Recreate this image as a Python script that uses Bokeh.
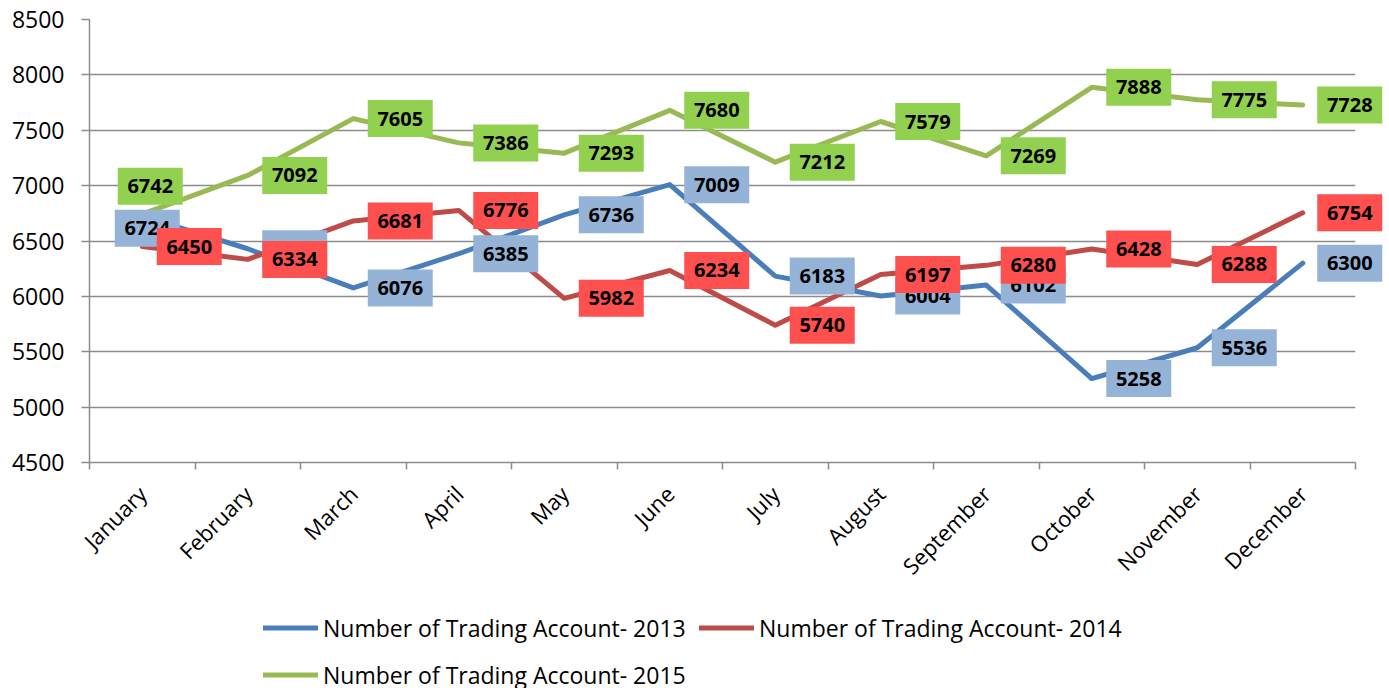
import math
from bokeh.plotting import figure
from bokeh.layouts import column
from bokeh.models import Range1d, FixedTicker, Legend, LegendItem
from bokeh.embed import file_html
from bokeh.resources import INLINE
from bokeh.core.properties import value

# ---------------- data ----------------
months = ["January", "February", "March", "April", "May", "June", "July",
          "August", "September", "October", "November", "December"]
accounts_2013 = [6724, 6430, 6076, 6385, 6736, 7009, 6183, 6004, 6102, 5258, 5536, 6300]
accounts_2014 = [6450, 6334, 6681, 6776, 5982, 6234, 5740, 6197, 6280, 6428, 6288, 6754]
accounts_2015 = [6742, 7092, 7605, 7386, 7293, 7680, 7212, 7579, 7269, 7888, 7775, 7728]
series_names = ["Number of Trading Account- 2013",
                "Number of Trading Account- 2014",
                "Number of Trading Account- 2015"]
y_ticks = [4500, 5000, 5500, 6000, 6500, 7000, 7500, 8000, 8500]

# ---------------- style ----------------
line_colors = ["#4A7EBB", "#BE4B48", "#98B954"]
label_fills = ["#95B3D7", "#FF5050", "#92D050"]
FONT = "Open Sans"
FRAME_W, FRAME_H = 1266, 443
FRAME_LEFT = 89
Y0, Y1 = 4500, 8500
px_per_cat = FRAME_W / len(months)
px_per_unit = FRAME_H / (Y1 - Y0)
LABEL_DX = 47                      # label box sits right of its point (px)
label_nudges = {(0, 0): (-42, 12),  # (series, month) -> (dx, dy) px, dy down
                (2, 0): (-39, -28)}
GRID = "#8C8C8C"
TOTAL_W = 1389
MAIN_BOTTOM = 130
LEG_H = 688 - (19 + FRAME_H + MAIN_BOTTOM)

p = figure(frame_width=FRAME_W, frame_height=FRAME_H,
           min_border_left=FRAME_LEFT, min_border_right=TOTAL_W - FRAME_LEFT - FRAME_W,
           min_border_top=19, min_border_bottom=MAIN_BOTTOM,
           x_range=Range1d(0, len(months)), y_range=Range1d(Y0, Y1),
           output_backend="svg", toolbar_location=None,
           background_fill_color="white", border_fill_color="white")
p.outline_line_color = None
p.xgrid.grid_line_color = None
p.ygrid.grid_line_color = GRID
p.ygrid.grid_line_width = 1.5
p.ygrid.ticker = FixedTicker(ticks=y_ticks)

centers = [i + 0.5 for i in range(len(months))]
bounds = list(range(len(months) + 1))

xa = p.xaxis[0]
xa.ticker = FixedTicker(ticks=centers, minor_ticks=bounds)
xa.major_label_overrides = {c: m for c, m in zip(centers, months)}
xa.major_tick_line_color = None
xa.minor_tick_line_color = GRID
xa.minor_tick_line_width = 1.5
xa.minor_tick_out = 7
xa.minor_tick_in = 0
xa.axis_line_color = GRID
xa.axis_line_width = 1.5
xa.major_label_orientation = math.pi / 4
xa.major_label_text_font = FONT
xa.major_label_text_font_size = "22px"
xa.major_label_text_color = "black"
xa.major_label_standoff = 20

ya = p.yaxis[0]
ya.ticker = FixedTicker(ticks=y_ticks)
ya.axis_line_color = GRID
ya.axis_line_width = 1.5
ya.major_tick_line_color = GRID
ya.major_tick_line_width = 1.5
ya.major_tick_out = 8
ya.major_tick_in = 0
ya.minor_tick_line_color = None
ya.major_label_text_font = FONT
ya.major_label_text_font_size = "23px"
ya.major_label_text_color = "black"
ya.major_label_standoff = 17

all_series = [accounts_2013, accounts_2014, accounts_2015]
for s, vals in enumerate(all_series):
    p.line(centers, vals, line_color=line_colors[s], line_width=5,
           line_join="round", line_cap="round")

for s, vals in enumerate(all_series):
    lx, ly = [], []
    for i, v in enumerate(vals):
        dx, dy = label_nudges.get((s, i), (0, 0))
        lx.append(centers[i] + (LABEL_DX + dx) / px_per_cat)
        ly.append(v - dy / px_per_unit)
    p.rect(lx, ly, width=65, height=37, width_units="screen", height_units="screen",
           fill_color=label_fills[s], line_color=None, level="annotation")
    p.text(lx, ly, text=[str(v) for v in vals], text_align="center",
           text_baseline="middle", text_font=value(FONT), text_font_style="bold",
           text_font_size="20px", text_color="black", level="annotation")

# ---------------- legend strip ----------------
lg = figure(width=TOTAL_W, height=LEG_H, min_border=0,
            x_range=Range1d(0, 1), y_range=Range1d(0, 1),
            x_axis_type=None, y_axis_type=None,
            output_backend="svg", toolbar_location=None,
            background_fill_color="white", border_fill_color="white")
lg.outline_line_color = None
lg.grid.grid_line_color = None
# off-range proxy lines: only their legend swatches are seen
legend_renderers = [lg.line([-2, -1], [-2, -1], line_color=c, line_width=5,
                            line_cap="round")
                    for c in line_colors]
row_pitch = 47
legend_top = 603 - (19 + FRAME_H + MAIN_BOTTOM)
legend = Legend(items=[LegendItem(label=n, renderers=[r])
                       for n, r in zip(series_names, legend_renderers)],
                orientation="horizontal", ncols=2,
                location=(263 - FRAME_LEFT, LEG_H - legend_top - 2 * row_pitch),
                padding=0, margin=0, spacing=0,
                glyph_width=55, glyph_height=row_pitch, label_height=row_pitch,
                label_width=376, label_standoff=5,
                label_text_font=FONT, label_text_font_size="23px",
                label_text_color="black", border_line_color=None,
                background_fill_alpha=0)
lg.add_layout(legend, "center")

layout = column(p, lg, spacing=0)
open("out.html", "w").write(file_html(layout, INLINE))
